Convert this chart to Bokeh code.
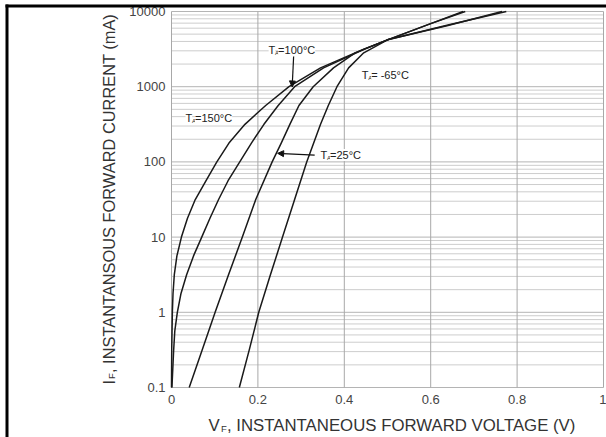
import math
from bokeh.plotting import figure
from bokeh.models import (FixedTicker, CustomJSTickFormatter, Label, Arrow, NormalHead,
                          BoxAnnotation, Range1d)
from bokeh.embed import file_html
from bokeh.resources import INLINE

# ---- data: forward voltage (V) vs forward current (mA) ----
v_150 = [0.000, 0.0005, 0.002, 0.0035, 0.0065, 0.0125, 0.023, 0.037, 0.055, 0.080, 0.105, 0.133, 0.170, 0.218, 0.272, 0.345, 0.445, 0.500, 0.640, 0.775]
i_150 = [0.1, 0.316, 1, 1.78, 3.16, 5.62, 10, 17.8, 31.6, 56.2, 100, 178, 316, 562, 1000, 1780, 3160, 4200, 6600, 10000]

v_100 = [0.001, 0.005, 0.0076, 0.0135, 0.022, 0.035, 0.051, 0.070, 0.089, 0.109, 0.131, 0.158, 0.185, 0.214, 0.247, 0.285, 0.352, 0.447, 0.500, 0.640, 0.765]
i_100 = [0.1, 0.316, 0.562, 1, 1.78, 3.16, 5.62, 10, 17.8, 31.6, 56.2, 100, 178, 316, 562, 1000, 1780, 3160, 4200, 6500, 10000]

v_25 = [0.041, 0.071, 0.101, 0.132, 0.164, 0.195, 0.233, 0.254, 0.274, 0.295, 0.328, 0.375, 0.425, 0.500, 0.600, 0.675]
i_25 = [0.1, 0.316, 1, 3.16, 10, 31.6, 100, 178, 316, 562, 1000, 1780, 2820, 4200, 6900, 10000]

v_m65 = [0.157, 0.180, 0.202, 0.229, 0.257, 0.285, 0.313, 0.345, 0.363, 0.383, 0.410, 0.445, 0.500, 0.600, 0.680]
i_m65 = [0.1, 0.316, 1, 3.16, 10, 31.6, 100, 316, 562, 1000, 1780, 2820, 4200, 6900, 10000]

x_ticks = [0, 0.2, 0.4, 0.6, 0.8, 1]
y_ticks = [0.1, 1, 10, 100, 1000, 10000]
y_minor = [m * d for d in [0.1, 1, 10, 100, 1000] for m in range(2, 10)]

FONT = "Liberation Sans"
W, H = 606, 437
# pixel placement of the data area inside the canvas
PL, PR, PT, PB = 171, 603, 11, 387
X0, X1 = x_ticks[0], x_ticks[-1]
Y0, Y1 = y_ticks[0], y_ticks[-1]
sx = (PR - PL) / (X1 - X0)
sy = (PB - PT) / (math.log10(Y1) - math.log10(Y0))
x_range = Range1d(X0 - PL / sx, X1 + (W - PR) / sx)
y_range = Range1d(10 ** (math.log10(Y0) - (H - PB) / sy), 10 ** (math.log10(Y1) + PT / sy))

p = figure(width=W, height=H, x_range=x_range, y_range=y_range, title=None,
           y_axis_type="log", output_backend="svg", toolbar_location=None,
           min_border_left=0, min_border_right=0, min_border_top=0, min_border_bottom=0)
p.background_fill_color = "white"
p.border_fill_color = "white"
p.outline_line_color = None
p.xgrid.visible = False
p.ygrid.visible = False

# axes pinned to the data-area edges
p.xaxis.fixed_location = Y0
p.yaxis.fixed_location = X0
p.xaxis.ticker = FixedTicker(ticks=x_ticks)
p.yaxis.ticker = FixedTicker(ticks=y_ticks)
p.xaxis.formatter = CustomJSTickFormatter(code="return String(tick);")
p.yaxis.formatter = CustomJSTickFormatter(code="return String(tick);")
for ax in (p.xaxis[0], p.yaxis[0]):
    ax.axis_line_color = None
    ax.major_tick_line_color = None
    ax.minor_tick_line_color = None
    ax.major_tick_out = 0
    ax.major_tick_in = 0
    ax.minor_tick_out = 0
    ax.minor_tick_in = 0
    ax.major_label_text_font = FONT
    ax.major_label_text_font_size = "13px"
    ax.major_label_text_color = "#444444"
p.xaxis.major_label_standoff = 7
p.yaxis.major_label_standoff = 6

# grid lines restricted to the data area
p.segment(x0=X0, y0=y_minor, x1=X1, y1=y_minor, line_color="#cdcdcd", line_width=1)
p.segment(x0=X0, y0=y_ticks, x1=X1, y1=y_ticks, line_color="#b4b4b4", line_width=1)
p.segment(x0=x_ticks, y0=Y0, x1=x_ticks, y1=Y1, line_color="#a8a8a8", line_width=1)

for vs, cs in [(v_150, i_150), (v_100, i_100), (v_25, i_25), (v_m65, i_m65)]:
    p.line(vs, cs, line_color="#1a1a1a", line_width=1.5, line_join="round")

# ---- curve labels ----
def temp_label(x, y, rest):
    p.add_layout(Label(x=x, y=y, text="T", text_font=FONT, text_font_size="11px",
                       text_baseline="middle", text_color="#222222",
                       background_fill_color="white"))
    p.add_layout(Label(x=x, y=y, text="A", text_font=FONT, text_font_size="6px",
                       text_baseline="middle", x_offset=6.5, y_offset=-3, text_color="#222222"))
    p.add_layout(Label(x=x, y=y, text=rest, text_font=FONT, text_font_size="11px",
                       text_baseline="middle", x_offset=9.5, text_color="#222222",
                       background_fill_color="white"))

temp_label(0.0324, 389, "=150°C")
temp_label(0.2248, 3030, "=100°C")
temp_label(0.4403, 1452, "= -65°C")
temp_label(0.345, 123.6, "=25°C")

p.add_layout(Arrow(end=NormalHead(size=6, fill_color="#111111", line_color="#111111"),
                   x_start=0.2827, y_start=2523, x_end=0.2793, y_end=991,
                   line_color="#111111", line_width=1.2))
p.add_layout(Arrow(end=NormalHead(size=6, fill_color="#111111", line_color="#111111"),
                   x_start=0.3314, y_start=122.7, x_end=0.2457, y_end=130,
                   line_color="#111111", line_width=1.2))

# ---- axis titles with subscripts (canvas units, y from top) ----
TC = "#333333"
def cl(x, y, text, size, **kw):
    p.add_layout(Label(x=x, y=y, x_units="canvas", y_units="canvas", text=text,
                       text_font=FONT, text_font_size=size, text_baseline="middle",
                       text_color=TC, **kw))

xt_x, xt_y = 208, 425
cl(xt_x, xt_y, "V", "16.8px")
cl(xt_x, xt_y, "F", "9.5px", x_offset=12.5, y_offset=-3)
cl(xt_x, xt_y, ", INSTANTANEOUS FORWARD VOLTAGE (V)", "16.8px", x_offset=18.5)

yt_x, yt_y = 108, 384
cl(yt_x, yt_y, "I", "16.4px", angle=math.pi / 2)
cl(yt_x, yt_y, "F", "9.5px", angle=math.pi / 2, x_offset=3, y_offset=5.5)
cl(yt_x, yt_y, ", INSTANTANSOUS FORWARD CURRENT (mA)", "16.4px", angle=math.pi / 2, y_offset=11.5)

# ---- black page frame lines (left and top) ----
for l, r, t, b in [(5, 8, 4, H), (5, W, 4, 7)]:
    p.add_layout(BoxAnnotation(left=l, right=r, top=t, bottom=b,
                               left_units="canvas", right_units="canvas",
                               top_units="canvas", bottom_units="canvas",
                               fill_color="black", fill_alpha=1.0, line_color=None,
                               level="overlay"))

open("out.html", "w").write(file_html(p, INLINE))
